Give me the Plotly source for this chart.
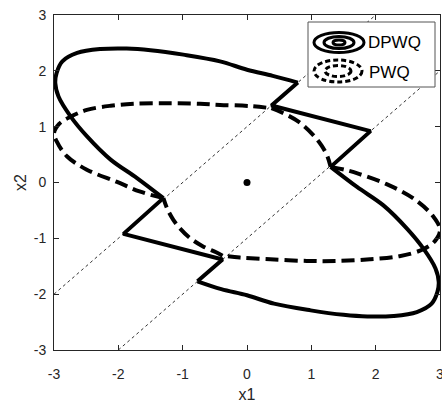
import plotly.graph_objects as go

# DPWQ level curve (solid)
dpwq_upper_x = [0.79, 0.40, 0.0, -0.42, -0.99, -1.50, -1.87, -2.28, -2.64, -2.87,
                -2.96, -2.98, -2.93, -2.74, -2.49, -2.12, -1.71, -1.30]
dpwq_upper_y = [1.79, 1.91, 2.02, 2.17, 2.29, 2.37, 2.40, 2.39, 2.32, 2.17,
                1.96, 1.78, 1.54, 1.18, 0.83, 0.41, 0.08, -0.28]
dpwq_lower_x = [-0.77, -0.40, 0.0, 0.42, 0.99, 1.50, 1.87, 2.28, 2.64, 2.87,
                2.96, 2.98, 2.93, 2.74, 2.49, 2.12, 1.71, 1.30]
dpwq_lower_y = [-1.77, -1.91, -2.02, -2.17, -2.29, -2.37, -2.40, -2.39, -2.32, -2.17,
                -1.96, -1.78, -1.54, -1.18, -0.83, -0.41, -0.08, 0.28]
dpwq_zig_left_x = [-1.30, -1.92, -0.38, -0.77]
dpwq_zig_left_y = [-0.28, -0.92, -1.38, -1.77]
dpwq_zig_right_x = [1.30, 1.92, 0.38, 0.79]
dpwq_zig_right_y = [0.28, 0.92, 1.38, 1.79]

# PWQ level curve (dashed)
pwq_upper_x = [-1.30, -1.67, -2.02, -2.49, -2.80, -2.96, -3.0, -2.92, -2.74, -2.49,
               -2.12, -1.76, -1.24, -0.73, -0.42, 0.04, 0.38]
pwq_upper_y = [-0.28, -0.16, 0.01, 0.23, 0.47, 0.74, 0.88, 1.05, 1.18, 1.30,
               1.375, 1.41, 1.42, 1.41, 1.39, 1.37, 1.33]
pwq_mid_right_x = [0.38, 0.55, 0.80, 1.03, 1.16, 1.25, 1.30]
pwq_mid_right_y = [1.33, 1.25, 1.09, 0.85, 0.66, 0.47, 0.28]
pwq_lower_x = [1.30, 1.55, 1.75, 2.17, 2.58, 2.89, 3.0, 2.92, 2.73, 2.37,
               1.91, 1.39, 0.93, 0.36, -0.11, -0.38]
pwq_lower_y = [0.28, 0.22, 0.15, -0.03, -0.28, -0.60, -0.85, -1.05, -1.20, -1.32,
               -1.375, -1.405, -1.405, -1.375, -1.345, -1.31]
pwq_mid_left_x = [-0.38, -0.48, -0.69, -0.89, -1.05, -1.15, -1.24, -1.30]
pwq_mid_left_y = [-1.31, -1.25, -1.14, -0.99, -0.81, -0.66, -0.47, -0.28]

# region boundaries x2 = x1 + 1 and x2 = x1 - 1
bound_a_x = [-3, 2]
bound_a_y = [-2, 3]
bound_b_x = [-2, 3]
bound_b_y = [-3, 2]

origin_x = [0]
origin_y = [0]

ticks = [-3, -2, -1, 0, 1, 2, 3]
tick_labels = ["-3", "-2", "-1", "0", "1", "2", "3"]

FONT = "Liberation Sans, Arial, sans-serif"
INK = "#262626"

fig = go.Figure()

for bx, by in [(bound_a_x, bound_a_y), (bound_b_x, bound_b_y)]:
    fig.add_trace(go.Scatter(x=bx, y=by, mode="lines", showlegend=False,
                             line=dict(color="#333333", width=1, dash="dot")))

solid = dict(color="black", width=4)
for cx, cy, shape in [(dpwq_upper_x, dpwq_upper_y, "spline"),
                      (dpwq_lower_x, dpwq_lower_y, "spline"),
                      (dpwq_zig_left_x, dpwq_zig_left_y, "linear"),
                      (dpwq_zig_right_x, dpwq_zig_right_y, "linear")]:
    fig.add_trace(go.Scatter(x=cx, y=cy, mode="lines", name="DPWQ",
                             legendgroup="DPWQ", showlegend=False,
                             line=dict(shape=shape, **solid)))

dashed = dict(color="black", width=4, dash="13px,6px", shape="spline")
for cx, cy in [(pwq_upper_x, pwq_upper_y), (pwq_mid_right_x, pwq_mid_right_y),
               (pwq_lower_x, pwq_lower_y), (pwq_mid_left_x, pwq_mid_left_y)]:
    fig.add_trace(go.Scatter(x=cx, y=cy, mode="lines", name="PWQ",
                             legendgroup="PWQ", showlegend=False, line=dashed))

fig.add_trace(go.Scatter(x=origin_x, y=origin_y, mode="markers", showlegend=False,
                         marker=dict(color="black", size=7)))

# plot area in pixels: left 54, right 440, top 15, bottom 350
L, R, T, B = 54, 440, 15, 350


def px(x):
    return (x - L) / (R - L)


def py(y):
    return (B - y) / (B - T)


# hand-drawn legend mimicking MATLAB's contour legend icons
shapes = [dict(type="rect", xref="paper", yref="paper",
               x0=px(308), x1=px(435), y0=py(87), y1=py(22),
               line=dict(color="#555555", width=1), fillcolor="white", layer="above")]
for hw, hh in [(25, 10), (15, 6), (6, 2.5)]:
    shapes.append(dict(type="circle", xref="paper", yref="paper",
                       x0=px(339 - hw), x1=px(339 + hw), y0=py(42.5 + hh), y1=py(42.5 - hh),
                       line=dict(color="black", width=3), layer="above"))
for hw, hh in [(24, 11), (13, 5.5)]:
    shapes.append(dict(type="circle", xref="paper", yref="paper",
                       x0=px(338 - hw), x1=px(338 + hw), y0=py(71 + hh), y1=py(71 - hh),
                       line=dict(color="black", width=3, dash="5px,3px"), layer="above"))

annotations = [
    dict(text="DPWQ", xref="paper", yref="paper", x=px(366), y=py(42), xanchor="left",
         yanchor="middle", showarrow=False, font=dict(family=FONT, size=17, color="black")),
    dict(text="PWQ", xref="paper", yref="paper", x=px(367), y=py(72), xanchor="left",
         yanchor="middle", showarrow=False, font=dict(family=FONT, size=17, color="black")),
]

axis_style = dict(
    range=[-3, 3], tickvals=ticks, ticktext=tick_labels, ticks="inside", ticklen=5,
    tickcolor=INK, showline=True, linecolor=INK, linewidth=1, mirror="ticks",
    showgrid=False, zeroline=False, automargin=False, ticklabeloverflow="allow",
    tickfont=dict(family=FONT, size=14, color=INK),
    title_font=dict(family=FONT, size=16, color=INK),
)

fig.update_xaxes(title_text="x1", title_standoff=11, ticklabelstandoff=11, **axis_style)
fig.update_yaxes(title_text="x2", title_standoff=3, ticklabelstandoff=4, **axis_style)

fig.update_layout(
    width=442,
    height=403,
    margin=dict(l=L, r=442 - R, t=T, b=403 - B),
    plot_bgcolor="white",
    paper_bgcolor="white",
    showlegend=False,
    shapes=shapes,
    annotations=annotations,
)

# the page's default body margin would shift the figure by 8px
fig.write_html("out.html", config={"displayModeBar": False},
               post_script="document.body.style.margin='0';")
